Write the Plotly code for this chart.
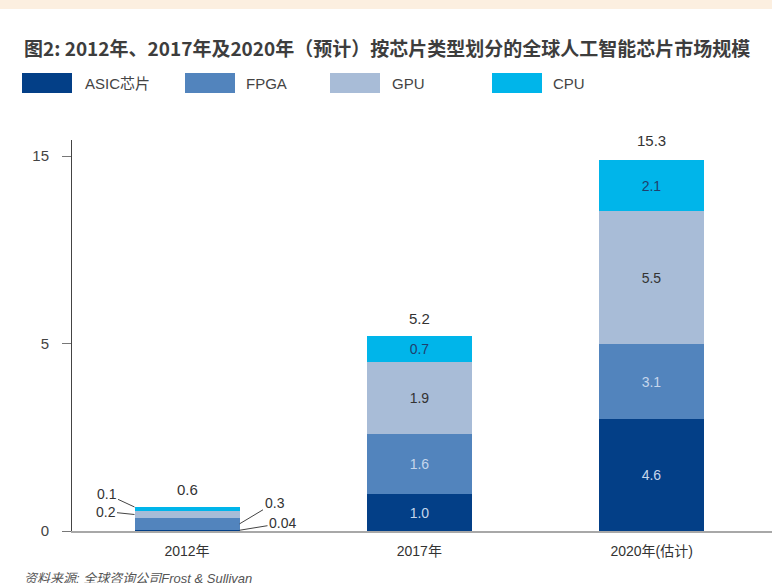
import plotly.graph_objects as go

# ---- data ----
years = ["2012年", "2017年", "2020年(估计)"]
series_names = ["ASIC芯片", "FPGA", "GPU", "CPU"]
asic = [0.04, 1.0, 4.6]
fpga = [0.3, 1.6, 3.1]
gpu = [0.2, 1.9, 5.5]
cpu = [0.1, 0.7, 2.1]
totals = [0.6, 5.2, 15.3]
tick_vals = [0, 5, 10]
tick_text = ["0", "5", "15"]

colors = ["#033f87", "#5284bd", "#a8bcd7", "#00b5ea"]
inner_text_colors = ["#c5d6ec", "#c5d6ec", "#333333", "#1f3f6e"]
series_vals = [asic, fpga, gpu, cpu]

W, H = 772, 583
L, R, T, B = 72, 0, 140, 52
plot_w = W - L - R
plot_h = H - T - B
bar_w = 0.452

FONT = "Liberation Sans, Noto Sans CJK SC, sans-serif"

fig = go.Figure()
for name, vals, col, tcol in zip(series_names, series_vals, colors, inner_text_colors):
    # 2012 & 2017 on primary axis
    fig.add_trace(go.Bar(
        x=years[:2], y=vals[:2], name=name, marker=dict(color=col, line=dict(width=0)),
        width=bar_w, yaxis="y",
        text=["", f"{vals[1]:.1f}"], textposition="inside", insidetextanchor="middle",
        textfont=dict(color=tcol, size=14, family=FONT), showlegend=False,
        constraintext="none",
    ))
    # 2020 on secondary scale
    fig.add_trace(go.Bar(
        x=years[2:], y=vals[2:], name=name, marker=dict(color=col, line=dict(width=0)),
        width=bar_w, yaxis="y2",
        text=[f"{vals[2]:.1f}"], textposition="inside", insidetextanchor="middle",
        textfont=dict(color=tcol, size=14, family=FONT), showlegend=False,
        constraintext="none",
    ))

annotations = []
# totals
for i, (yr, tot) in enumerate(zip(years, totals)):
    annotations.append(dict(
        x=yr, y=sum(v[i] for v in series_vals), xref="x", yref="y2" if i == 2 else "y",
        text=f"{tot}", showarrow=False, yshift=18 if i < 2 else 19,
        font=dict(size=15, color="#333333", family=FONT),
    ))

# 2012 leader labels
cum = [0]
for v in series_vals:
    cum.append(cum[-1] + v[0])
leader_specs = [
    # (series index, side, y position within segment, ax, ay)
    (3, -1, cum[4], -28, -13),
    (2, -1, (cum[2] + cum[3]) / 2, -29, -3),
    (1, 1, (cum[1] + cum[2]) / 2, 35, -21),
    (0, 1, cum[1] / 2, 43, -7),
]
for si, side, ypos, ax, ay in leader_specs:
    annotations.append(dict(
        x=side * bar_w / 2, y=ypos, xref="x", yref="y",
        text=f"{series_vals[si][0]}", showarrow=True, arrowhead=0, arrowwidth=1,
        arrowcolor="#444444", ax=ax, ay=ay, standoff=0,
        font=dict(size=14, color="#333333", family=FONT),
    ))

def px_x(px):
    return (px - L) / plot_w

def px_y(py):
    return (H - B - py) / plot_h

# title
annotations.append(dict(
    x=px_x(22), y=px_y(47), xref="paper", yref="paper", xanchor="left", yanchor="middle",
    text="<b>图2: 2012年、2017年及2020年（预计）按芯片类型划分的全球人工智能芯片市场规模</b>",
    showarrow=False, font=dict(size=19, color="#3d3d3d", family="Noto Sans CJK SC"),
))
# legend
shapes = []
leg_sw_x = [22, 185, 330, 492]
leg_tx_x = [85, 246, 392, 553]
for name, col, sx, tx in zip(series_names, colors, leg_sw_x, leg_tx_x):
    shapes.append(dict(type="rect", xref="paper", yref="paper",
                       x0=px_x(sx), x1=px_x(sx + 50), y0=px_y(93), y1=px_y(73),
                       fillcolor=col, line=dict(width=0)))
    annotations.append(dict(
        x=px_x(tx - 2), y=px_y(83), xref="paper", yref="paper", xanchor="left", yanchor="middle",
        text=name, showarrow=False, font=dict(size=15, color="#444444", family=FONT),
    ))
# top band
shapes.append(dict(type="rect", xref="paper", yref="paper", x0=px_x(0), x1=px_x(W),
                   y0=px_y(9), y1=px_y(0), fillcolor="#fcefe0", line=dict(width=0), layer="below"))
# source
annotations.append(dict(
    x=px_x(22), y=px_y(578), xref="paper", yref="paper", xanchor="left", yanchor="middle",
    text="<i>资料来源: 全球咨询公司Frost & Sullivan</i>", showarrow=False,
    font=dict(size=13, color="#555555", family=FONT),
))

fig.update_layout(
    width=W, height=H, margin=dict(l=L, r=R, t=T, b=B),
    paper_bgcolor="white", plot_bgcolor="white",
    barmode="stack", bargap=0,
    showlegend=False,
    xaxis=dict(type="category", categoryorder="array", categoryarray=years,
               range=[-0.495, 2.518], showline=True, linecolor="#a8a8a8", linewidth=2,
               ticks="", showgrid=False, zeroline=False, ticklabelstandoff=6,
               tickfont=dict(size=14, color="#333333", family=FONT)),
    yaxis=dict(range=[0, plot_h / 37.5], tickvals=tick_vals, ticktext=tick_text,
               showline=True, linecolor="#444444", linewidth=1, ticks="outside",
               ticklen=9, tickcolor="#777777", showgrid=False, zeroline=False,
               ticklabelstandoff=10,
               tickfont=dict(size=15, color="#444444", family=FONT)),
    yaxis2=dict(range=[0, plot_h / 24.25], overlaying="y", side="left", visible=False,
                showgrid=False, zeroline=False),
    annotations=annotations, shapes=shapes,
)

fig.write_html("out.html", config={"displayModeBar": False},
               post_script="document.body.style.margin='0px';document.body.style.overflow='hidden';")
